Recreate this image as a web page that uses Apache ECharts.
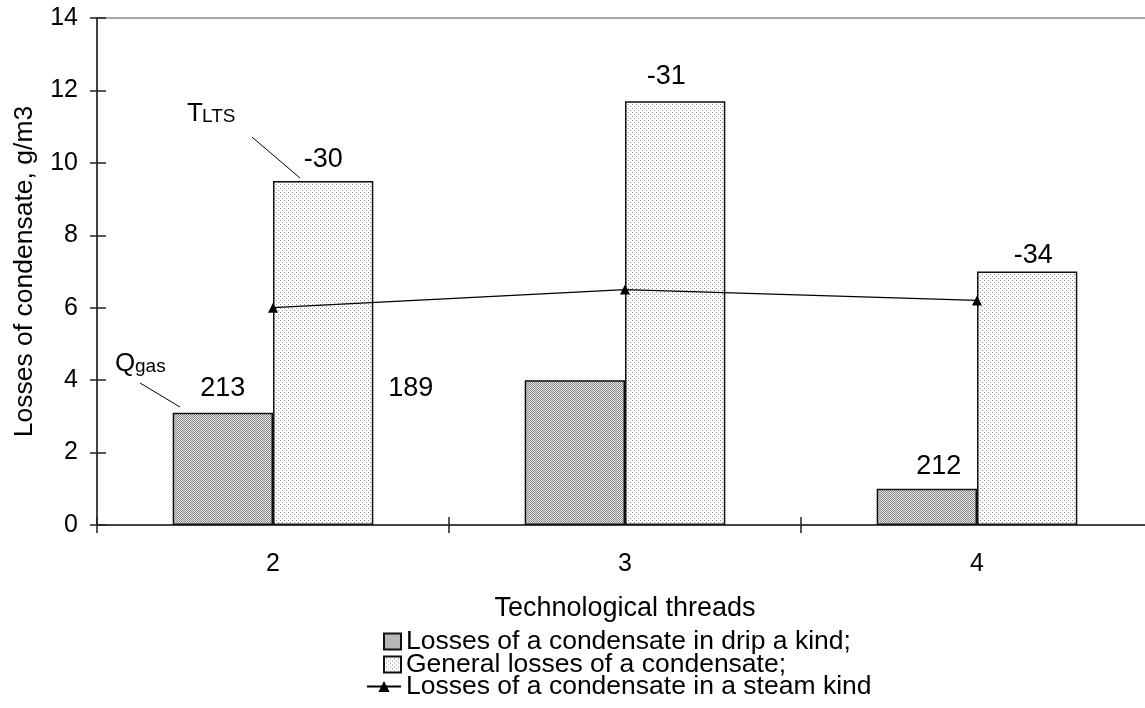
<!DOCTYPE html>
<html>
<head>
<meta charset="utf-8">
<script src="https://cdn.jsdelivr.net/npm/echarts@6/dist/echarts.min.js"></script>
<style>html,body{margin:0;padding:0;background:#fff;}#c{width:1145px;height:708px;}</style>
</head>
<body>
<div id="c"></div>
<script>
// ---- data ----
var categories = ['2', '3', '4'];
var dripLosses = [3.1, 4.0, 1.0];          // Losses of a condensate in drip a kind
var generalLosses = [9.5, 11.7, 7.0];      // General losses of a condensate
var steamLosses = [6.0, 6.5, 6.2];         // Losses of a condensate in a steam kind
var qGasLabels = ['213', '189', '212'];
var tLtsLabels = ['-30', '-31', '-34'];
var yTicks = [0, 2, 4, 6, 8, 10, 12, 14];

var names = ['Losses of a condensate in drip a kind;', 'General losses of a condensate;', 'Losses of a condensate in a steam kind'];

// label placement (style, not data)
var dripLabelOffset = [[0, -11], [-164, 22], [12, -9]];
var genLabelOffset = [[0, -8], [-9, -11], [6, -2]];

function makePattern(size, bg, dots, dotColor) {
  var c = document.createElement('canvas');
  c.width = size; c.height = size;
  var g = c.getContext('2d');
  g.fillStyle = bg; g.fillRect(0, 0, size, size);
  g.fillStyle = dotColor;
  dots.forEach(function (d) { g.fillRect(d[0], d[1], 1, 1); });
  return c;
}
var dripPat = makePattern(2, '#e4e4e4', [[0, 0], [1, 1]], '#8a8a8a');
var genPat = makePattern(4, '#ffffff', [[0, 0], [2, 2]], '#8a8a8a');

var FONT = 'Liberation Sans, Arial, sans-serif';

var chart = echarts.init(document.getElementById('c'), null, {renderer: 'canvas'});

function barData(vals, labels, offsets) {
  return vals.map(function (v, i) {
    return {
      value: v,
      label: {show: true, position: 'top', distance: 0, offset: offsets[i], formatter: labels[i]}
    };
  });
}

var legendText = {color: '#000', fontSize: 26.5, fontFamily: FONT};

var option = {
  backgroundColor: '#ffffff',
  animation: false,
  grid: {
    left: 97, top: 18, width: 1056, height: 507,
    show: true, borderColor: '#8c8c8c', borderWidth: 1.5, backgroundColor: 'transparent',
    outerBoundsMode: 'none', containLabel: false
  },
  xAxis: [{
    type: 'category', data: categories, position: 'bottom',
    axisLine: {show: true, lineStyle: {color: '#222', width: 1.5}},
    axisTick: {show: true, inside: false, length: 8, lineStyle: {color: '#222', width: 1.5}},
    axisLabel: {color: '#000', fontSize: 25, fontFamily: FONT, margin: 27},
    name: 'Technological threads', nameLocation: 'middle', nameGap: 70,
    nameTextStyle: {color: '#000', fontSize: 27, fontFamily: FONT},
    splitLine: {show: false}
  }, {
    type: 'category', data: categories, position: 'bottom',
    axisLine: {show: false},
    axisTick: {show: true, inside: true, length: 8, lineStyle: {color: '#222', width: 1.5}},
    axisLabel: {show: false}, splitLine: {show: false}
  }],
  yAxis: [{
    type: 'value', min: 0, max: 14, interval: 2, position: 'left',
    axisLine: {show: true, lineStyle: {color: '#222', width: 1.5}},
    axisTick: {show: true, inside: false, length: 7, lineStyle: {color: '#222', width: 1.5}},
    axisLabel: {color: '#000', fontSize: 25, fontFamily: FONT, margin: 19,
      formatter: function (v) { return yTicks.indexOf(v) >= 0 ? String(v) : ''; }},
    splitLine: {show: false},
    name: 'Losses of condensate, g/m3', nameLocation: 'middle', nameGap: 59,
    nameTextStyle: {color: '#000', fontSize: 26.5, fontFamily: FONT}
  }, {
    type: 'value', min: 0, max: 14, interval: 2, position: 'left',
    axisLine: {show: false},
    axisTick: {show: true, inside: true, length: 9, lineStyle: {color: '#222', width: 1.5}},
    axisLabel: {show: false}, splitLine: {show: false}
  }],
  legend: [{
    data: [{name: names[0], icon: 'rect'}], orient: 'vertical', left: 383, top: 628, padding: 0,
    itemWidth: 17, itemHeight: 16, itemGap: 0, itemTextGap: 5, textStyle: legendText
  }, {
    data: [{name: names[1], icon: 'rect'}], orient: 'vertical', left: 383, top: 651, padding: 0,
    itemWidth: 17, itemHeight: 16, itemGap: 0, itemTextGap: 5, textStyle: legendText
  }, {
    data: [names[2]], orient: 'vertical', left: 366, top: 673, padding: 0,
    itemWidth: 34, itemHeight: 14, itemGap: 0, itemTextGap: 5, textStyle: legendText
  }],
  series: [{
    name: names[0], type: 'bar', data: barData(dripLosses, qGasLabels, dripLabelOffset),
    barGap: '0%', barCategoryGap: '43%',
    itemStyle: {color: {image: dripPat, repeat: 'repeat'}, borderColor: '#111', borderWidth: 1.5},
    label: {color: '#000', fontSize: 27, fontFamily: FONT},
    emphasis: {disabled: true}
  }, {
    name: names[1], type: 'bar', data: barData(generalLosses, tLtsLabels, genLabelOffset),
    barGap: '0%', barCategoryGap: '43%',
    itemStyle: {color: {image: genPat, repeat: 'repeat'}, borderColor: '#111', borderWidth: 1.5},
    label: {color: '#000', fontSize: 27, fontFamily: FONT},
    emphasis: {disabled: true}
  }, {
    name: names[2], type: 'line', data: steamLosses, z: 5,
    symbol: 'triangle', symbolSize: 10, showSymbol: true,
    lineStyle: {color: '#000', width: 1.3},
    itemStyle: {color: '#000'},
    emphasis: {disabled: true}
  }],
  graphic: [
    {type: 'text', left: 187, top: 101, style: {text: 'T', fontSize: 26, fontFamily: FONT, fill: '#000'}},
    {type: 'text', left: 202, top: 107, style: {text: 'LTS', fontSize: 19, fontFamily: FONT, fill: '#000'}},
    {type: 'line', shape: {x1: 252, y1: 137, x2: 300, y2: 178}, style: {stroke: '#000', lineWidth: 1}},
    {type: 'text', left: 115, top: 351, style: {text: 'Q', fontSize: 26, fontFamily: FONT, fill: '#000'}},
    {type: 'text', left: 135, top: 357, style: {text: 'gas', fontSize: 19, fontFamily: FONT, fill: '#000'}},
    {type: 'line', shape: {x1: 140, y1: 383, x2: 180, y2: 407}, style: {stroke: '#000', lineWidth: 1}}
  ]
};
chart.setOption(option);
</script>
</body>
</html>
